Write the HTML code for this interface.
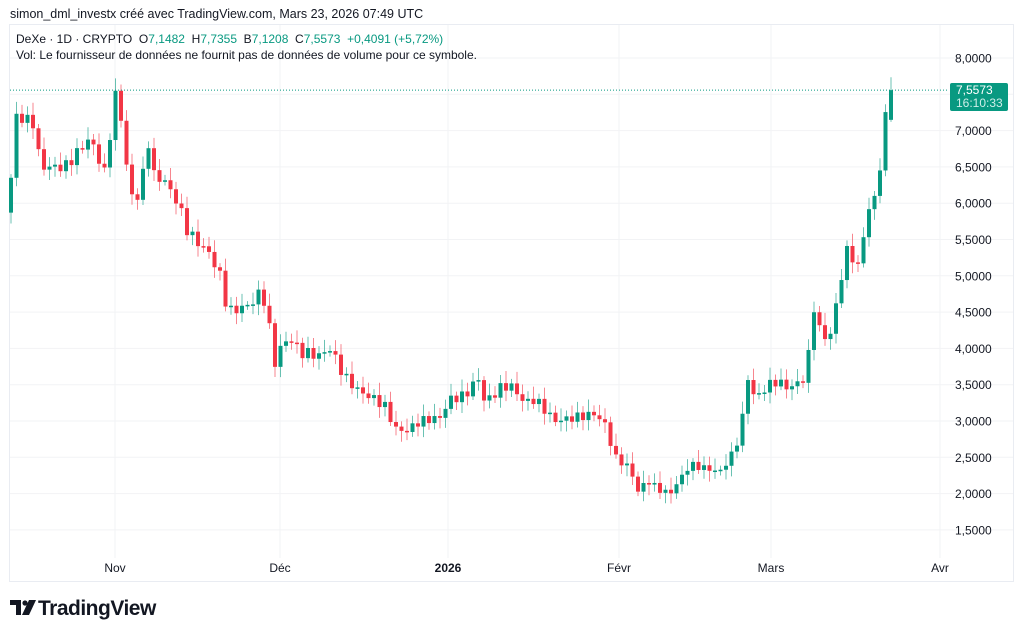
<!DOCTYPE html>
<html><head><meta charset="utf-8"><style>
html,body{margin:0;padding:0;background:#fff;width:1024px;height:636px;overflow:hidden}
body{font-family:"Liberation Sans",sans-serif;position:relative}
.t{position:absolute;white-space:nowrap}
</style></head><body>
<div class="t" style="left:10px;top:7px;font-size:12.5px;color:#131722">simon_dml_investx créé avec TradingView.com, Mars 23, 2026 07:49 UTC</div>
<svg id="c" width="1024" height="636" style="position:absolute;left:0;top:0" xmlns="http://www.w3.org/2000/svg"></svg>
<div class="t" style="left:16px;top:32px;font-size:12px;color:#131722">DeXe · 1D · CRYPTO&nbsp; O<span style="color:#089981">7,1482</span>&nbsp; H<span style="color:#089981">7,7355</span>&nbsp; B<span style="color:#089981">7,1208</span>&nbsp; C<span style="color:#089981">7,5573&nbsp; +0,4091 (+5,72%)</span></div>
<div class="t" style="left:16px;top:48px;font-size:12px;color:#131722">Vol: Le fournisseur de données ne fournit pas de données de volume pour ce symbole.</div>
<div class="t" style="left:950px;top:83px;width:58px;height:28px;background:#089981;border-radius:2px;color:#fff;font-size:12px;line-height:13px;padding-top:1px;box-sizing:border-box;padding-left:6px">7,5573<br><span style="color:#cfeee8">16:10:33</span></div>
<svg class="t" style="left:10px;top:600px" width="30" height="18"><path d="M0 0h11v15h-5v-10h-6z" fill="#131722"/><circle cx="15" cy="3" r="2.6" fill="#131722"/><path d="M19 0h7l-7 15h-7z" fill="#131722"/></svg>
<div class="t" style="left:38px;top:597px;font-size:21px;font-weight:bold;color:#131722;letter-spacing:-0.5px">TradingView</div>
<script>
var s=document.getElementById('c'),h='';
function Y(p){return 58+(8-p)*72.6;}
h+='<rect x="9.5" y="24.5" width="1004" height="557" fill="none" stroke="#e9ecf2"/>';
for(var p=1.5;p<=8.01;p+=0.5){var y=Y(p);h+='<line x1="10" x2="1013" y1="'+y+'" y2="'+y+'" stroke="#f2f3f5"/>';
h+='<text x="955" y="'+(y+4.5)+'" font-size="12" fill="#131722" font-family="Liberation Sans">'+p.toFixed(4).replace('.',',')+'</text>';}
var vx=[115,280,448,619,771,940],vl=['Nov','Déc','2026','Févr','Mars','Avr'];
for(var i=0;i<6;i++){h+='<line x1="'+vx[i]+'" x2="'+vx[i]+'" y1="25" y2="558" stroke="#f2f3f5"/>';
h+='<text x="'+vx[i]+'" y="572" text-anchor="middle" font-size="12" fill="#131722" font-family="Liberation Sans"'+(i==2?' font-weight="bold"':'')+'>'+vl[i]+'</text>';}
var k=[[11,6.35],[16,7.2],[35,7.1],[40,6.5],[65,6.5],[90,6.9],[105,6.4],[115,7.5],[120,7.3],[130,6.1],[140,6.1],[148,6.9],[152,6.4],[165,6.3],[178,6.0],[188,5.6],[195,5.5],[210,5.3],[220,5.0],[228,4.5],[250,4.6],[262,4.8],[268,4.4],[275,3.8],[280,4.0],[290,4.15],[300,3.95],[320,3.9],[330,4.0],[345,3.6],[360,3.4],[375,3.3],[385,3.2],[395,2.9],[405,2.85],[420,3.0],[440,3.05],[450,3.3],[465,3.35],[478,3.6],[485,3.25],[500,3.45],[510,3.5],[525,3.25],[535,3.3],[555,3.0],[575,3.05],[595,3.1],[605,2.95],[615,2.5],[630,2.35],[640,1.95],[645,2.2],[660,2.05],[670,2.0],[690,2.4],[705,2.35],[720,2.3],[735,2.6],[742,3.0],[748,3.6],[755,3.3],[765,3.45],[775,3.55],[790,3.45],[800,3.55],[806,3.6],[815,4.7],[820,4.2],[830,4.15],[840,4.9],[848,5.4],[858,5.1],[866,5.8],[875,6.1],[880,6.5],[885,7.15],[891,7.5573]];
function f(x){for(var j=0;j<k.length-1;j++){if(x<=k[j+1][0]){var a=k[j],b=k[j+1];return a[1]+(b[1]-a[1])*(x-a[0])/(b[0]-a[0]);}}return k[k.length-1][1];}
var prev=5.87;
for(var x=11,i=0;x<=892;x+=5.5,i++){
 var c=f(x)+(x<888?0.08*Math.sin(i*2.7)*Math.min(1,f(x)/4):0);
 if(x>=890)c=7.5573;
 var o=(x>=890)?7.1482:prev;
 var hi=Math.max(o,c)+0.05+0.12*Math.abs(Math.sin(i*1.9)), lo=Math.min(o,c)-0.05-0.1*Math.abs(Math.cos(i*2.3));
 if(x>=890){hi=7.7355;lo=7.1208;}
 var col=c>=o?'#089981':'#F23645';
 var y1=Y(Math.max(o,c)),y2=Y(Math.min(o,c));if(y2-y1<1.5)y2=y1+1.5;
 h+='<line x1="'+x+'" x2="'+x+'" y1="'+Y(hi)+'" y2="'+Y(lo)+'" stroke="'+col+'" stroke-opacity="0.6"/>';
 h+='<rect x="'+(x-2)+'" y="'+y1+'" width="4" height="'+(y2-y1)+'" fill="'+col+'"/>';
 prev=c;}
h+='<line x1="10" x2="948" y1="'+Y(7.5573)+'" y2="'+Y(7.5573)+'" stroke="#089981" stroke-dasharray="1,2"/>';
s.innerHTML=h;
</script>
</body></html>
